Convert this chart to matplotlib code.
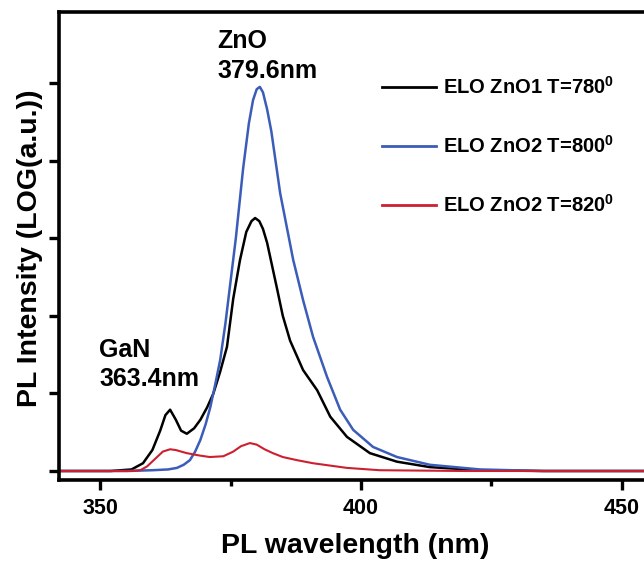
import numpy as np
import matplotlib
matplotlib.use("Agg")
import matplotlib.pyplot as plt

plt.rcParams['font.family'] = ['Liberation Sans', 'DejaVu Sans']
plt.rcParams['font.weight'] = 'bold'
plt.rcParams['mathtext.fontset'] = 'custom'
plt.rcParams['mathtext.rm'] = 'Liberation Sans'
plt.rcParams['mathtext.bf'] = 'Liberation Sans:bold'

# PL spectra (wavelength nm, log intensity a.u.)
wl_780 = [342, 352, 356, 358.2, 360, 361.5, 362.5, 363.4, 364.5, 365.5, 366.6, 368, 369.2,
          370.5, 371.7, 373, 374.3, 375.5, 376.8, 378, 379, 379.7, 380.5, 381.2, 382, 383.9,
          385, 386.4, 388.9, 391.6, 394.1, 397.3, 401.7, 406.9, 413.2, 422.8, 435, 460]
pl_780 = [0, 0, 0.02, 0.10, 0.27, 0.52, 0.72, 0.79, 0.66, 0.52, 0.48, 0.55, 0.66,
          0.82, 1.0, 1.28, 1.6, 2.22, 2.72, 3.08, 3.22, 3.26, 3.22, 3.12, 2.94, 2.35,
          2.0, 1.68, 1.3, 1.04, 0.70, 0.44, 0.23, 0.12, 0.05, 0.01, 0, 0]

wl_800 = [342, 355, 360, 363, 364.7, 366, 367.2, 368.2, 369.2, 370.2, 371.1, 372, 373, 374,
          375, 376, 377.4, 378.5, 379.3, 380, 380.6, 381.2, 382, 382.8, 384.5, 387, 388.9,
          390.8, 393.5, 396, 398.5, 402.3, 406.9, 413.2, 422.8, 435, 460]
pl_800 = [0, 0, 0.01, 0.02, 0.04, 0.08, 0.14, 0.25, 0.4, 0.6, 0.82, 1.1, 1.43, 1.9,
          2.45, 3.0, 3.9, 4.48, 4.78, 4.92, 4.95, 4.88, 4.66, 4.38, 3.58, 2.72, 2.2,
          1.73, 1.21, 0.79, 0.53, 0.31, 0.18, 0.08, 0.02, 0, 0]

wl_820 = [342, 356, 357.7, 359, 360.9, 362, 363.4, 364.5, 366.6, 369, 371, 373.6, 375.5,
          377, 378.7, 380, 381.5, 383.1, 385, 387.7, 390.8, 397.3, 403.6, 420, 460]
pl_820 = [0, 0, 0.01, 0.06, 0.18, 0.25, 0.28, 0.27, 0.23, 0.2, 0.18, 0.19, 0.25,
          0.32, 0.36, 0.34, 0.28, 0.23, 0.18, 0.14, 0.10, 0.04, 0.01, 0, 0]

labels = [r'ELO ZnO1 T=780$^{0}$', r'ELO ZnO2 T=800$^{0}$', r'ELO ZnO2 T=820$^{0}$']
colors = ['black', '#3b5cb8', '#cc1f2f']

fig = plt.figure(figsize=(6.44, 5.64), dpi=100)
ax = fig.add_axes([59 / 644, 1 - 480 / 564, 615 / 644, 468 / 564])

ax.plot(wl_780, pl_780, color=colors[0], lw=1.8, label=labels[0])
ax.plot(wl_800, pl_800, color=colors[1], lw=1.8, label=labels[1])
ax.plot(wl_820, pl_820, color=colors[2], lw=1.5, label=labels[2])

ax.set_xlim(342.1, 460)
ax.set_ylim(-0.116, 5.915)
ax.set_xticks([350, 400, 450])
ax.set_xticks([375, 425], minor=True)
ax.set_yticks([0, 1, 2, 3, 4, 5])
ax.set_yticklabels([])
for s in ax.spines.values():
    s.set_linewidth(2.6)
ax.tick_params(axis='both', which='major', direction='out', length=7, width=2.4,
               labelsize=15.5, pad=6)
ax.tick_params(axis='x', which='minor', direction='out', length=4, width=2.4)

ax.set_xlabel('PL wavelength (nm)', fontsize=20.5, fontweight='bold')
ax.xaxis.set_label_coords(355 / 644, 1 - 533 / 564, transform=fig.transFigure)
ax.set_ylabel('PL Intensity (LOG(a.u.))', fontsize=20.5, fontweight='bold')
ax.yaxis.set_label_coords(43 / 644, 1 - 248 / 564, transform=fig.transFigure)

ax.text(372.4, 5.451, 'ZnO', fontsize=18, fontweight='bold', ha='left', va='baseline')
ax.text(372.4, 5.065, '379.6nm', fontsize=18, fontweight='bold', ha='left', va='baseline')
ax.text(349.8, 1.469, 'GaN', fontsize=18, fontweight='bold', ha='left', va='baseline')
ax.text(349.8, 1.095, '363.4nm', fontsize=18, fontweight='bold', ha='left', va='baseline')

leg = ax.legend(loc='center left', bbox_to_anchor=(382 / 644, 1 - 146 / 564),
                bbox_transform=fig.transFigure, frameon=False, fontsize=14.5,
                handlelength=2.7, handletextpad=0.35, labelspacing=1.85,
                borderpad=0, borderaxespad=0)
for line in leg.get_lines():
    line.set_linewidth(2.0)

fig.savefig('out.png', dpi=100)
